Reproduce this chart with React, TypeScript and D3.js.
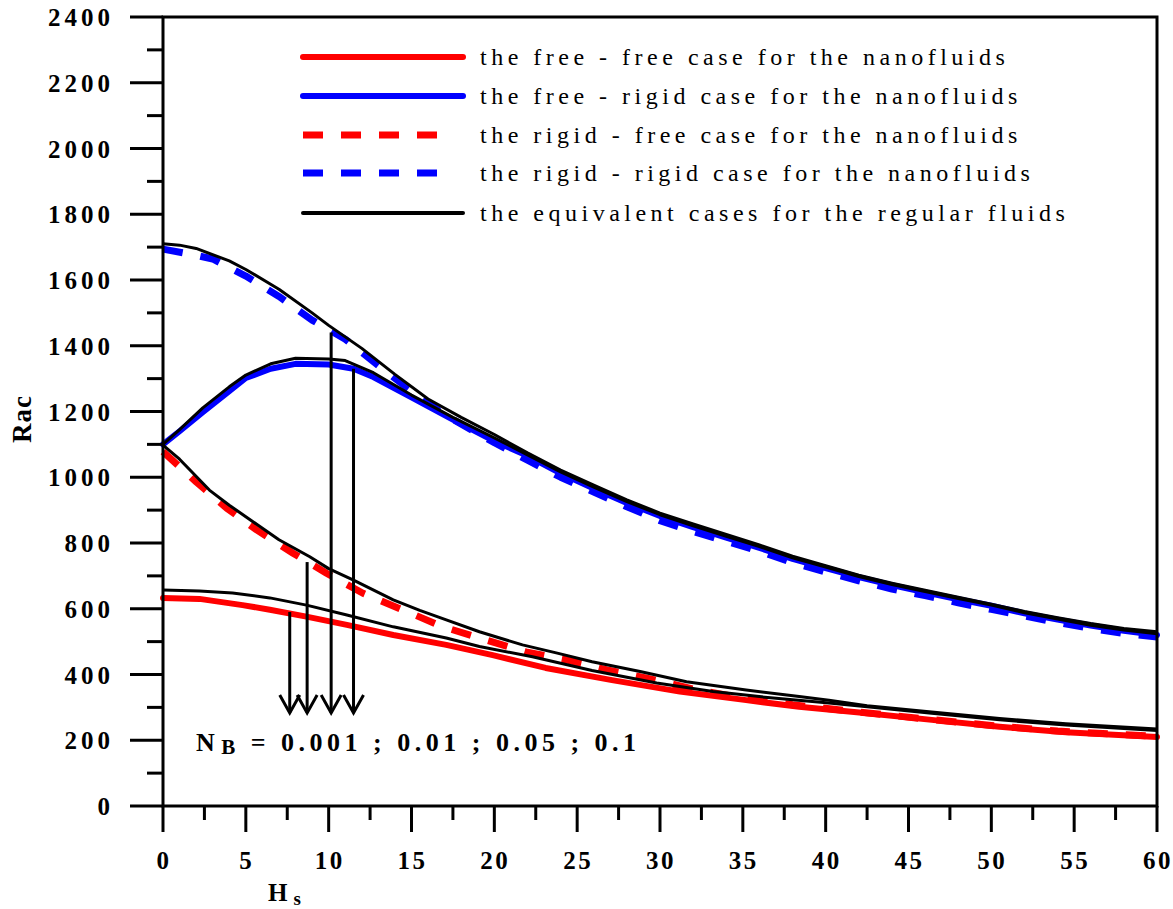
import React, { useEffect, useRef } from "react";
import * as d3 from "d3";

// free - free, nanofluid (red solid)
const ffNanoX = [0, 2.2, 4.8, 6.45, 8.66, 11.1, 13.9, 17.1, 19.9, 23.1, 27.1, 31.2, 35.2, 38.4, 42.5, 46.4, 50.5, 54.5, 60];
const ffNanoY = [633, 630, 611, 597, 576, 551, 520, 490, 459, 420, 383, 348, 322, 302, 282, 262, 241, 224, 210];
// free - free, regular fluid (black)
const ffRegX = [0, 2.2, 4.2, 6.45, 8.66, 11.1, 13.9, 17.1, 19.1, 22.3, 25.9, 29.8, 33.2, 36.5, 40.2, 42.5, 46.4, 50.5, 54.5, 60];
const ffRegY = [657, 654, 648, 633, 611, 581, 545, 511, 485, 454, 412, 374, 348, 330, 313, 302, 282, 262, 246, 230];
// rigid - free, nanofluid (red dashed)
const rfNanoX = [0, 2, 3.84, 5.65, 7.85, 9.87, 12.07, 14.5, 16.9, 19.5, 21.9, 24.4, 26.8, 29.2, 32, 35, 38, 42, 46, 50, 54, 60];
const rfNanoY = [1078, 986, 906, 840, 769, 708, 647, 596, 545, 505, 469, 444, 414, 389, 356, 328, 308, 286, 265, 245, 228, 212];
// rigid - free, regular fluid (black)
const rfRegX = [0, 1, 2.8, 4, 5.85, 7, 8.86, 10, 11.5, 13.9, 15.5, 17.1, 19.1, 21.7, 23.8, 25.9, 28.8, 31.6, 35.2, 38.4, 40.2, 42.5, 46.4, 50.5, 54.5, 60];
const rfRegY = [1098, 1055, 961, 915, 850, 810, 758, 722, 687, 627, 595, 566, 530, 490, 465, 439, 409, 378, 353, 333, 322, 305, 286, 266, 250, 234];
// free - rigid, nanofluid (blue solid)
const frNanoX = [0, 1, 2.4, 4, 5, 6.5, 8, 10, 11.5, 12.7, 15, 17.5, 20, 22, 24, 26, 28, 30, 32, 34, 36, 38, 40, 42, 44, 46, 48, 50, 52, 54, 56, 58, 60];
const frNanoY = [1100, 1140, 1198, 1262, 1302, 1330, 1345, 1343, 1330, 1305, 1243, 1175, 1110, 1065, 1012, 966, 922, 882, 848, 816, 785, 752, 724, 696, 672, 650, 629, 609, 586, 567, 549, 533, 520];
// free - rigid, regular fluid (black)
const frRegX = [0, 1, 2.4, 4, 5, 6.5, 8, 10, 11, 12.7, 15, 17.5, 20, 22, 24, 26, 28, 30, 32, 34, 36, 38, 40, 42, 44, 46, 48, 50, 52, 54, 56, 58, 60];
const frRegY = [1100, 1145, 1211, 1275, 1311, 1345, 1362, 1360, 1355, 1318, 1250, 1182, 1120, 1068, 1016, 970, 926, 886, 852, 820, 789, 755, 727, 698, 674, 652, 631, 611, 588, 569, 550, 535, 524];
// rigid - rigid, nanofluid (blue dashed)
const rrNanoX = [0, 2, 3, 5, 7, 9, 11, 13, 15, 17, 20, 22, 24, 26, 28, 30, 32, 34, 36, 38, 40, 42, 44, 46, 48, 50, 52, 54, 56, 58, 60];
const rrNanoY = [1694, 1675, 1664, 1612, 1550, 1478, 1420, 1340, 1262, 1190, 1105, 1052, 1000, 955, 910, 868, 835, 805, 775, 740, 712, 685, 660, 640, 618, 598, 578, 558, 540, 525, 514];
// rigid - rigid, regular fluid (black)
const rrRegX = [0, 1, 2, 4, 5, 7, 9, 10, 12, 14, 16, 18, 20, 22, 24, 26, 28, 30, 32, 34, 36, 38, 40, 42, 44, 46, 48, 50, 52, 54, 56, 58, 60];
const rrRegY = [1710, 1706, 1696, 1658, 1632, 1572, 1500, 1462, 1392, 1313, 1238, 1182, 1130, 1074, 1022, 976, 931, 891, 858, 826, 794, 760, 731, 702, 678, 656, 635, 614, 592, 573, 555, 540, 530];

// N_B arrows: x position, top value, tip value
const arrowX = [7.65, 8.7, 10.15, 11.5];
const arrowTop = [590, 742, 1440, 1330];
const arrowTip = 283;

const legendLabels = [
  "the free - free case for the nanofluids",
  "the free - rigid case for the nanofluids",
  "the rigid - free case for the nanofluids",
  "the rigid - rigid case for the nanofluids",
  "the equivalent cases for the regular fluids",
];

const yMajor = d3.range(0, 2401, 200);
const yMinor = d3.range(100, 2400, 200);
const xMajor = d3.range(0, 61, 5);
const xMinor = d3.range(2.5, 60, 5);

const RED = "#ff0000";
const BLUE = "#0000ff";

const App = () => {
  const svgRef = useRef<SVGSVGElement>(null);

  useEffect(() => {
    const width = 1173;
    const height = 909;
    const margin = { top: 17, right: 16, bottom: 103, left: 163 };
    const font = "'Liberation Serif', 'Times New Roman', serif";

    d3.select(svgRef.current).selectAll("*").remove();

    const svg = d3
      .select(svgRef.current)
      .attr("width", width)
      .attr("height", height);

    const x = d3
      .scaleLinear()
      .domain([0, 60])
      .range([margin.left, width - margin.right]);
    const y = d3
      .scaleLinear()
      .domain([0, 2400])
      .range([height - margin.bottom, margin.top]);

    const line = d3
      .line<[number, number]>()
      .x((d) => x(d[0]))
      .y((d) => y(d[1]));

    const zip = (xs: number[], ys: number[]) =>
      xs.map((v, i) => [v, ys[i]] as [number, number]);

    // coloured nanofluid curves
    const nano = [
      { d: zip(ffNanoX, ffNanoY), color: RED, dash: null, w: 6 },
      { d: zip(rfNanoX, rfNanoY), color: RED, dash: "20 18", w: 7 },
      { d: zip(rrNanoX, rrNanoY), color: BLUE, dash: "20 18", w: 7 },
      { d: zip(frNanoX, frNanoY), color: BLUE, dash: null, w: 6 },
    ];
    nano.forEach((s) => {
      svg
        .append("path")
        .datum(s.d)
        .attr("fill", "none")
        .attr("stroke", s.color)
        .attr("stroke-width", s.w)
        .attr("stroke-linejoin", "round")
        .attr("stroke-linecap", s.dash ? "butt" : "round")
        .attr("stroke-dasharray", s.dash)
        .attr("d", line);
    });

    // regular fluid curves
    [
      zip(ffRegX, ffRegY),
      zip(rfRegX, rfRegY),
      zip(frRegX, frRegY),
      zip(rrRegX, rrRegY),
    ].forEach((d) => {
      svg
        .append("path")
        .datum(d)
        .attr("fill", "none")
        .attr("stroke", "black")
        .attr("stroke-width", 3)
        .attr("stroke-linejoin", "round")
        .attr("d", line);
    });

    // arrows
    arrowX.forEach((ax, i) => {
      const px = x(ax);
      const tip = y(arrowTip);
      svg
        .append("line")
        .attr("x1", px)
        .attr("x2", px)
        .attr("y1", y(arrowTop[i]))
        .attr("y2", tip)
        .attr("stroke", "black")
        .attr("stroke-width", 3);
      svg
        .append("path")
        .attr("d", `M${px - 10},${tip - 18}L${px},${tip}L${px + 10},${tip - 18}`)
        .attr("fill", "none")
        .attr("stroke", "black")
        .attr("stroke-width", 3);
    });

    // frame
    const x0 = x(0), x1 = x(60), y0 = y(0), y1 = y(2400);
    svg
      .append("rect")
      .attr("x", x0)
      .attr("y", y1)
      .attr("width", x1 - x0)
      .attr("height", y0 - y1)
      .attr("fill", "none")
      .attr("stroke", "black")
      .attr("stroke-width", 3);

    // ticks
    const tk = svg.append("g").attr("stroke", "black").attr("stroke-width", 3);
    yMajor.forEach((v) => {
      tk.append("line").attr("x1", x0 - 33).attr("x2", x0).attr("y1", y(v)).attr("y2", y(v));
    });
    yMinor.forEach((v) => {
      tk.append("line").attr("x1", x0 - 16).attr("x2", x0).attr("y1", y(v)).attr("y2", y(v));
    });
    xMajor.forEach((v) => {
      tk.append("line").attr("x1", x(v)).attr("x2", x(v)).attr("y1", y0).attr("y2", y0 + 26);
    });
    xMinor.forEach((v) => {
      tk.append("line").attr("x1", x(v)).attr("x2", x(v)).attr("y1", y0).attr("y2", y0 + 14);
    });

    svg
      .append("g")
      .selectAll("text")
      .data(yMajor)
      .join("text")
      .attr("x", 114)
      .attr("y", (d) => y(d) + 9)
      .attr("text-anchor", "end")
      .attr("font-family", font)
      .attr("font-weight", "bold")
      .attr("font-size", 25)
      .attr("letter-spacing", 4)
      .text((d) => d);

    svg
      .append("g")
      .selectAll("text")
      .data(xMajor)
      .join("text")
      .attr("x", (d) => x(d) + 1)
      .attr("y", 869)
      .attr("text-anchor", "middle")
      .attr("font-family", font)
      .attr("font-weight", "bold")
      .attr("font-size", 25)
      .attr("letter-spacing", 2.5)
      .text((d) => d);

    // axis titles
    svg
      .append("text")
      .attr("transform", "translate(31,419) rotate(-90)")
      .attr("text-anchor", "middle")
      .attr("font-family", font)
      .attr("font-weight", "bold")
      .attr("font-size", 27)
      .attr("letter-spacing", 1)
      .text("Rac");

    const hs = svg
      .append("text")
      .attr("x", 268)
      .attr("y", 901)
      .attr("font-family", font)
      .attr("font-weight", "bold")
      .attr("font-size", 25);
    hs.append("tspan").text("H");
    hs.append("tspan").attr("dx", 6).attr("dy", 4).attr("font-size", 19).text("s");

    // N_B annotation
    const nb = svg
      .append("text")
      .attr("x", 196)
      .attr("y", 751)
      .attr("font-family", font)
      .attr("font-weight", "bold")
      .attr("font-size", 26)
      .attr("letter-spacing", 4.5);
    nb.append("tspan").text("N");
    nb.append("tspan").attr("dx", 2).attr("dy", 3).attr("font-size", 21).text("B");
    nb.append("tspan").attr("dy", -3).attr("xml:space", "preserve").text(" = 0.001 ; 0.01 ; 0.05 ; 0.1");

    // legend
    const legendY = [57, 96, 135, 173, 213];
    const legendStyle = [
      { color: RED, dash: null, w: 6 },
      { color: BLUE, dash: null, w: 6 },
      { color: RED, dash: "20 18", w: 7 },
      { color: BLUE, dash: "20 18", w: 7 },
      { color: "black", dash: null, w: 4 },
    ];
    legendLabels.forEach((label, i) => {
      const ly = legendY[i];
      const st = legendStyle[i];
      svg
        .append("line")
        .attr("x1", 303)
        .attr("x2", st.dash ? 455 : 463)
        .attr("y1", ly)
        .attr("y2", ly)
        .attr("stroke", st.color)
        .attr("stroke-width", st.w)
        .attr("stroke-linecap", st.dash ? "butt" : "round")
        .attr("stroke-dasharray", st.dash);
      svg
        .append("text")
        .attr("x", 480)
        .attr("y", ly + 8)
        .attr("font-family", font)
        .attr("font-size", 24)
        .attr("letter-spacing", 4.5)
        .text(label);
    });
  }, []);

  return (
    <svg
      ref={svgRef}
      style={{ position: "absolute", left: 0, top: 0, background: "white" }}
    ></svg>
  );
};

export default App;
